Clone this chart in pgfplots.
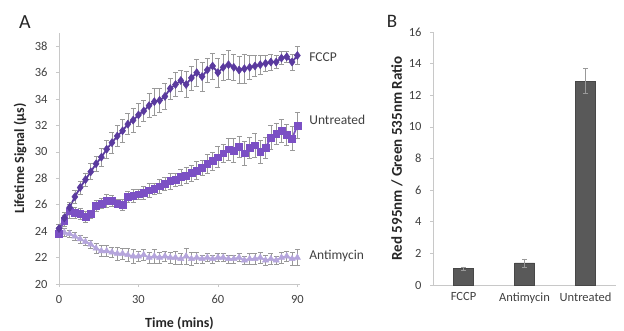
\documentclass[border=0pt]{standalone}
\usepackage{pgfplots}
\pgfplotsset{compat=1.18}
\usepackage{pgfplotstable}
\usepackage{fontspec}
\setmainfont{Carlito}
\definecolor{fccpc}{RGB}{90,58,158}
\definecolor{untc}{RGB}{123,80,196}
\definecolor{antc}{RGB}{181,165,220}
\definecolor{axc}{RGB}{200,200,200}
\definecolor{txc}{RGB}{64,64,64}
\definecolor{barc}{RGB}{89,89,89}

\pgfplotstableread{
t y e
0 24.2 0.3
2 25.0 0.4
4 25.8 0.4
6 26.6 0.5
8 27.3 0.5
10 27.9 0.5
12 28.5 0.6
14 29.1 0.6
16 29.6 0.7
18 30.2 0.7
20 30.7 0.8
22 31.2 0.8
24 31.6 0.9
26 32.1 0.8
28 32.4 0.9
30 32.8 0.9
32 33.1 0.8
34 33.5 0.9
36 33.8 1.0
38 33.9 0.9
40 34.2 1.0
42 34.8 0.8
44 35.1 0.9
46 35.4 0.8
48 35.1 1.0
50 35.6 0.9
52 36.0 1.0
54 35.7 1.1
56 36.2 0.9
58 36.5 1.0
60 36.0 1.1
62 36.4 1.0
64 36.6 1.1
66 36.4 1.0
68 36.2 1.0
70 36.3 1.1
72 36.4 0.9
74 36.5 0.8
76 36.6 0.7
78 36.7 0.6
80 36.8 0.6
82 36.8 0.5
84 37.1 0.5
86 37.2 0.4
88 36.8 0.6
90 37.3 0.7
}\fccp

\pgfplotstableread{
t y e
0 23.8 0.3
2 24.8 0.4
4 25.5 0.5
6 25.4 0.4
8 25.3 0.4
10 25.1 0.4
12 25.3 0.3
14 25.9 0.4
16 26.1 0.4
18 26.3 0.5
20 26.3 0.4
22 26.1 0.3
24 26.0 0.4
26 26.6 0.4
28 26.7 0.5
30 26.8 0.4
32 26.9 0.5
34 27.1 0.5
36 27.2 0.4
38 27.4 0.5
40 27.6 0.5
42 27.8 0.6
44 27.9 0.5
46 28.1 0.6
48 28.2 0.6
50 28.4 0.6
52 28.6 0.7
54 28.8 0.6
56 29.1 0.7
58 29.3 0.7
60 29.6 0.8
62 29.9 0.7
64 30.2 0.8
66 30.1 0.9
68 30.4 0.8
70 29.9 0.9
72 30.3 0.8
74 30.5 0.9
76 30.0 0.9
78 30.3 0.8
80 31.1 0.9
82 31.4 0.8
84 31.6 0.9
86 31.3 0.8
88 31.0 0.9
90 32.0 1.0
}\untr

\pgfplotstableread{
t y e
0 24.0 0.3
2 23.9 0.3
4 23.8 0.3
6 23.6 0.3
8 23.4 0.3
10 23.2 0.3
12 23.0 0.3
14 22.7 0.4
16 22.5 0.4
18 22.5 0.4
20 22.4 0.4
22 22.3 0.5
24 22.3 0.4
26 22.2 0.5
28 22.1 0.5
30 22.1 0.4
32 22.2 0.4
34 22.0 0.4
36 22.1 0.5
38 22.0 0.4
40 22.1 0.4
42 22.0 0.4
44 22.0 0.5
46 21.9 0.4
48 22.1 0.6
50 21.9 0.5
52 22.0 0.4
54 21.9 0.3
56 22.0 0.3
58 21.9 0.3
60 22.0 0.3
62 22.0 0.3
64 21.9 0.3
66 21.9 0.3
68 22.0 0.3
70 21.8 0.3
72 21.9 0.4
74 21.9 0.4
76 22.0 0.4
78 21.8 0.4
80 21.9 0.4
82 21.8 0.3
84 22.0 0.4
86 22.1 0.4
88 21.9 0.5
90 22.0 0.6
}\anti

\pgfplotstableread{
x y e
0 1.05 0.10
1 1.40 0.25
2 12.90 0.80
}\bars

\pgfplotsset{
  myax/.style={
    scale only axis,
    anchor=south west,
    axis lines*=left,
    axis line style={draw=axc, line width=0.8pt},
    tick style={draw=axc, line width=0.6pt},
    major tick length=3pt,
    tick align=outside,
    tick label style={font=\fontsize{12.5}{13}\selectfont, text=txc},
    /pgf/number format/assume math mode=true,
    label style={font=\fontsize{14}{15}\selectfont\bfseries, text=black!85},
    clip=false,
  },
  errsty/.style={error bars/.cd, y dir=both, y explicit,
    error bar style={draw=gray!80, line width=0.6pt},
    error mark options={draw=gray!80, line width=0.6pt, rotate=90, mark size=2.5pt}},
}

\begin{document}
\begin{tikzpicture}
\path[use as bounding box] (0pt,0pt) rectangle (624pt,330pt);

\begin{axis}[myax,
  at={(59pt,46pt)}, width=241pt, height=251pt,
  xmin=0, xmax=91, ymin=20, ymax=39,
  xtick={0,30,60,90}, ytick={20,22,...,38},
  yticklabel style={xshift=-5pt},
  xticklabel style={yshift=-5pt},
  xlabel={Time (mins)}, ylabel={Lifetime Signal (µs)},
  xlabel style={at={(rel axis cs:0.5,0)}, anchor=center, yshift=-39pt},
  ylabel style={at={(rel axis cs:0,0.5)}, anchor=center, yshift=39pt},
]
\addplot[color=antc, line width=1.8pt, mark=triangle*, mark size=3.6pt, mark options={fill=antc, draw=antc, line width=0.5pt}, errsty] table[x=t, y=y, y error=e] {\anti};
\addplot[color=untc, line width=1.8pt, mark=square*, mark size=3.4pt, mark options={fill=untc, draw=untc, line width=0.5pt}, errsty] table[x=t, y=y, y error=e] {\untr};
\addplot[color=fccpc, line width=1.8pt, mark=diamond*, mark size=4pt, mark options={fill=fccpc, draw=fccpc, line width=0.5pt}, errsty] table[x=t, y=y, y error=e] {\fccp};
\node[anchor=west, font=\fontsize{13.5}{14}\selectfont, text=txc] at (axis cs:93.2,37.2) {FCCP};
\node[anchor=west, font=\fontsize{13.5}{14}\selectfont, text=txc] at (axis cs:93.2,32.4) {Untreated};
\node[anchor=west, font=\fontsize{13.5}{14}\selectfont, text=txc] at (axis cs:93.2,22.1) {Antimycin};
\end{axis}

\begin{axis}[myax,
  at={(433pt,45pt)}, width=183pt, height=253pt,
  xmin=-0.5, xmax=2.5, ymin=0, ymax=16,
  ytick={0,2,...,16}, xtick={0,1,2},
  xticklabels={FCCP, Antimycin, Untreated},
  xtick style={draw=none},
  yticklabel style={xshift=-5pt},
  xticklabel style={yshift=-1pt},
  ylabel={Red 595nm / Green 535nm Ratio},
  ylabel style={at={(rel axis cs:0,0.5)}, anchor=center, yshift=36pt, font=\fontsize{15}{16}\selectfont\bfseries},
]
\addplot[ybar, bar width=20pt, fill=barc, draw=barc!80!black, errsty] table[x=x, y=y, y error=e] {\bars};
\end{axis}

\node[font=\fontsize{20}{22}\selectfont, text=black!85] at (25pt,308pt) {A};
\node[font=\fontsize{19}{21}\selectfont, text=black!85] at (392pt,309pt) {B};
\end{tikzpicture}
\end{document}
